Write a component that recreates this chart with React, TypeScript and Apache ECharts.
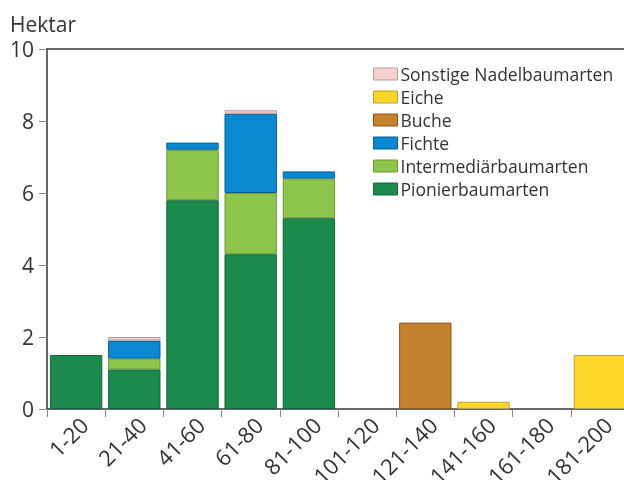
import React, { useEffect, useRef } from "react";
import * as echarts from "echarts";

const categories = ["1-20", "21-40", "41-60", "61-80", "81-100", "101-120", "121-140", "141-160", "161-180", "181-200"];
const pionier = [1.5, 1.1, 5.8, 4.3, 5.3, null, null, null, null, null];
const intermed = [null, 0.3, 1.4, 1.7, 1.1, null, null, null, null, null];
const fichte = [null, 0.5, 0.2, 2.2, 0.2, null, null, null, null, null];
const buche = [null, null, null, null, null, null, 2.4, null, null, null];
const eiche = [null, null, null, null, null, null, null, 0.2, null, 1.5];
const sonstige = [null, 0.1, null, 0.1, null, null, null, null, null, null];
const yTicks = [0, 2, 4, 6, 8, 10];

const seriesDefs = [
  { name: "Pionierbaumarten", data: pionier, color: "#1b8a4c", border: "#14653a" },
  { name: "Intermediärbaumarten", data: intermed, color: "#8dc44b", border: "#6f9a3c" },
  { name: "Fichte", data: fichte, color: "#0a88d2", border: "#0a5f90" },
  { name: "Buche", data: buche, color: "#c4812e", border: "#8a5a22" },
  { name: "Eiche", data: eiche, color: "#fdd52b", border: "#b8a040" },
  { name: "Sonstige Nadelbaumarten", data: sonstige, color: "#f6cfd1", border: "#b9a0a2" },
];

export default function App() {
  const ref = useRef<HTMLDivElement>(null);
  useEffect(() => {
    if (!ref.current) return;
    const chart = echarts.init(ref.current, null, { renderer: "svg" });
    const font = "'Open Sans', 'Noto Sans', sans-serif";
    chart.setOption({
      animation: false,
      textStyle: { fontFamily: font },
      grid: { left: 47, top: 49, bottom: 71, width: 582, containLabel: false, outerBoundsMode: "none" },
      legend: {
        orient: "vertical",
        left: 373,
        top: 65,
        padding: 0,
        itemWidth: 24,
        itemHeight: 12,
        itemGap: 5,
        icon: "rect",
        data: ["Sonstige Nadelbaumarten", "Eiche", "Buche", "Fichte", "Intermediärbaumarten", "Pionierbaumarten"],
        textStyle: { fontSize: 17.5, color: "#333", fontFamily: font, padding: [0, 0, 0, -2] },
        itemStyle: { borderWidth: 1 },
      },
      graphic: [
        {
          type: "text",
          left: 10,
          top: 13,
          style: { text: "Hektar", fontSize: 21, fill: "#333", fontFamily: font },
        },
      ],
      xAxis: [
        {
          type: "category",
          data: categories,
          axisLine: { lineStyle: { color: "#333", width: 1.5 } },
          axisTick: { show: true, length: 8, lineStyle: { color: "#888" } },
          axisLabel: {
            interval: 0,
            rotate: 45,
            fontSize: 22,
            color: "#333",
            fontFamily: font,
            margin: 4,
            verticalAlign: "top",
            overflow: "none",
          },
        },
        {
          type: "category",
          position: "top",
          data: categories,
          axisLine: { show: true, lineStyle: { color: "#333", width: 1.5 } },
          axisTick: { show: false },
          axisLabel: { show: false },
        },
      ],
      yAxis: {
        type: "value",
        min: 0,
        max: 10,
        interval: 2,
        axisLine: { show: true, lineStyle: { color: "#333", width: 1.5 } },
        axisTick: { show: true, length: 8, lineStyle: { color: "#888" } },
        splitLine: { show: false },
        axisLabel: {
          fontSize: 21,
          color: "#333",
          fontFamily: font,
          margin: 13,
          formatter: (v: number) => (yTicks.includes(v) ? String(v) : ""),
        },
      },
      series: seriesDefs.map((s) => ({
        type: "bar",
        name: s.name,
        stack: "total",
        data: s.data.map((v) => (v === null ? "-" : v)),
        barCategoryGap: "10%",
        itemStyle: { color: s.color, borderColor: s.border, borderWidth: 1 },
      })),
    });
    return () => chart.dispose();
  }, []);
  return <div ref={ref} style={{ position: "fixed", left: 0, top: 0, width: 624, height: 480 }} />;
}
